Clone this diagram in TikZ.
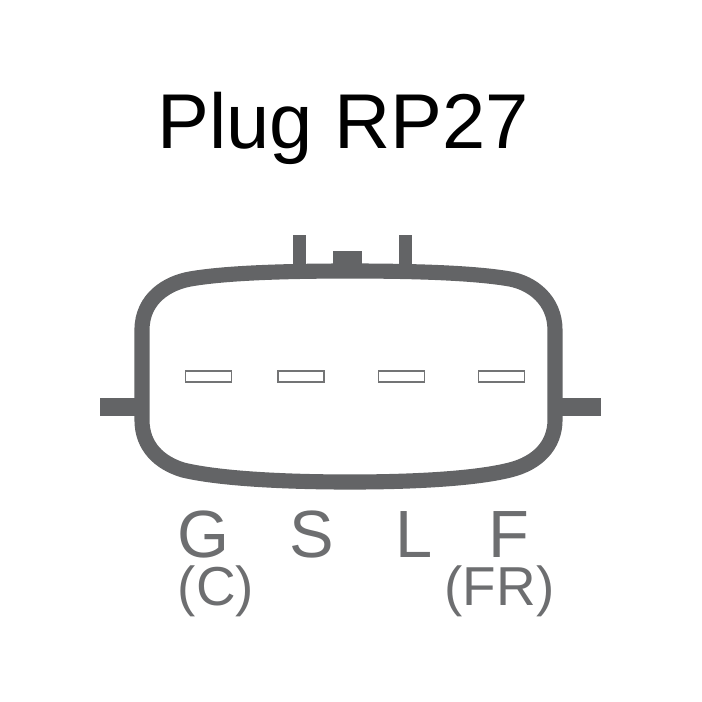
\documentclass[tikz,border=0pt]{standalone}
\usepackage{xcolor}
\usepackage{fontspec}
\setmainfont{Liberation Sans}
\usetikzlibrary{positioning}
\definecolor{plug}{HTML}{636466}
\definecolor{pinlabel}{HTML}{6D6E70}

\begin{document}
\begin{tikzpicture}[x=0.01cm,y=-0.01cm]
        \useasboundingbox (0,0) rectangle (702,702);
        % title
        \node[anchor=base] (title) at (343,148) {\fontsize{22.1pt}{24pt}\selectfont Plug RP27};
        % housing
        \begin{scope}[every path/.style={fill=plug,draw=none}]
          \path (100,398) rectangle (145,416);
          \path (558,398) rectangle (601,416);
          \path (293,235) rectangle (306,272);
          \path (399,235) rectangle (412,272);
          \path (333,251) rectangle (362,272);
        \end{scope}
        \draw[plug,line width=4.3pt] (142,330) .. controls (142,298) and (168,283) .. (190,279)
          .. controls (230,272) and (300,271) .. (350,271)
          .. controls (400,271) and (470,272) .. (510,279)
          .. controls (532,283) and (555,300) .. (555,330)
          -- (555,420)
          .. controls (555,445) and (538,463) .. (510,470)
          .. controls (470,480) and (400,482) .. (350,482)
          .. controls (300,482) and (225,480) .. (183,470)
          .. controls (160,463) and (142,447) .. (142,420) -- cycle;
        % pin slots
        \begin{scope}[every node/.style={draw=plug!90,line width=0.5pt,inner sep=0pt,minimum width=0.46cm,minimum height=0.105cm}]
          \node (slotg) at (208.5,376.5) {};
          \node (slots) at (301,376.5) {};
          \node (slotl) at (401.5,376.5) {};
          \node (slotf) at (501.5,376.5) {};
        \end{scope}
        % pin names
        \begin{scope}[every node/.style={text=pinlabel,inner sep=0pt,anchor=base}]
          \node (g) at (203,557) {\fontsize{19pt}{20pt}\selectfont G};
          \node (s) at (311.5,557) {\fontsize{19pt}{20pt}\selectfont S};
          \node (l) at (414,557) {\fontsize{19pt}{20pt}\selectfont L};
          \node (f) at (509,557) {\fontsize{19pt}{20pt}\selectfont F};
          \node (c) at (216,605) {\fontsize{15.6pt}{18pt}\selectfont (C)};
          \node (fr) at (499.5,605) {\fontsize{15.6pt}{18pt}\selectfont (FR)};
        \end{scope}
      \end{tikzpicture}
\end{document}
